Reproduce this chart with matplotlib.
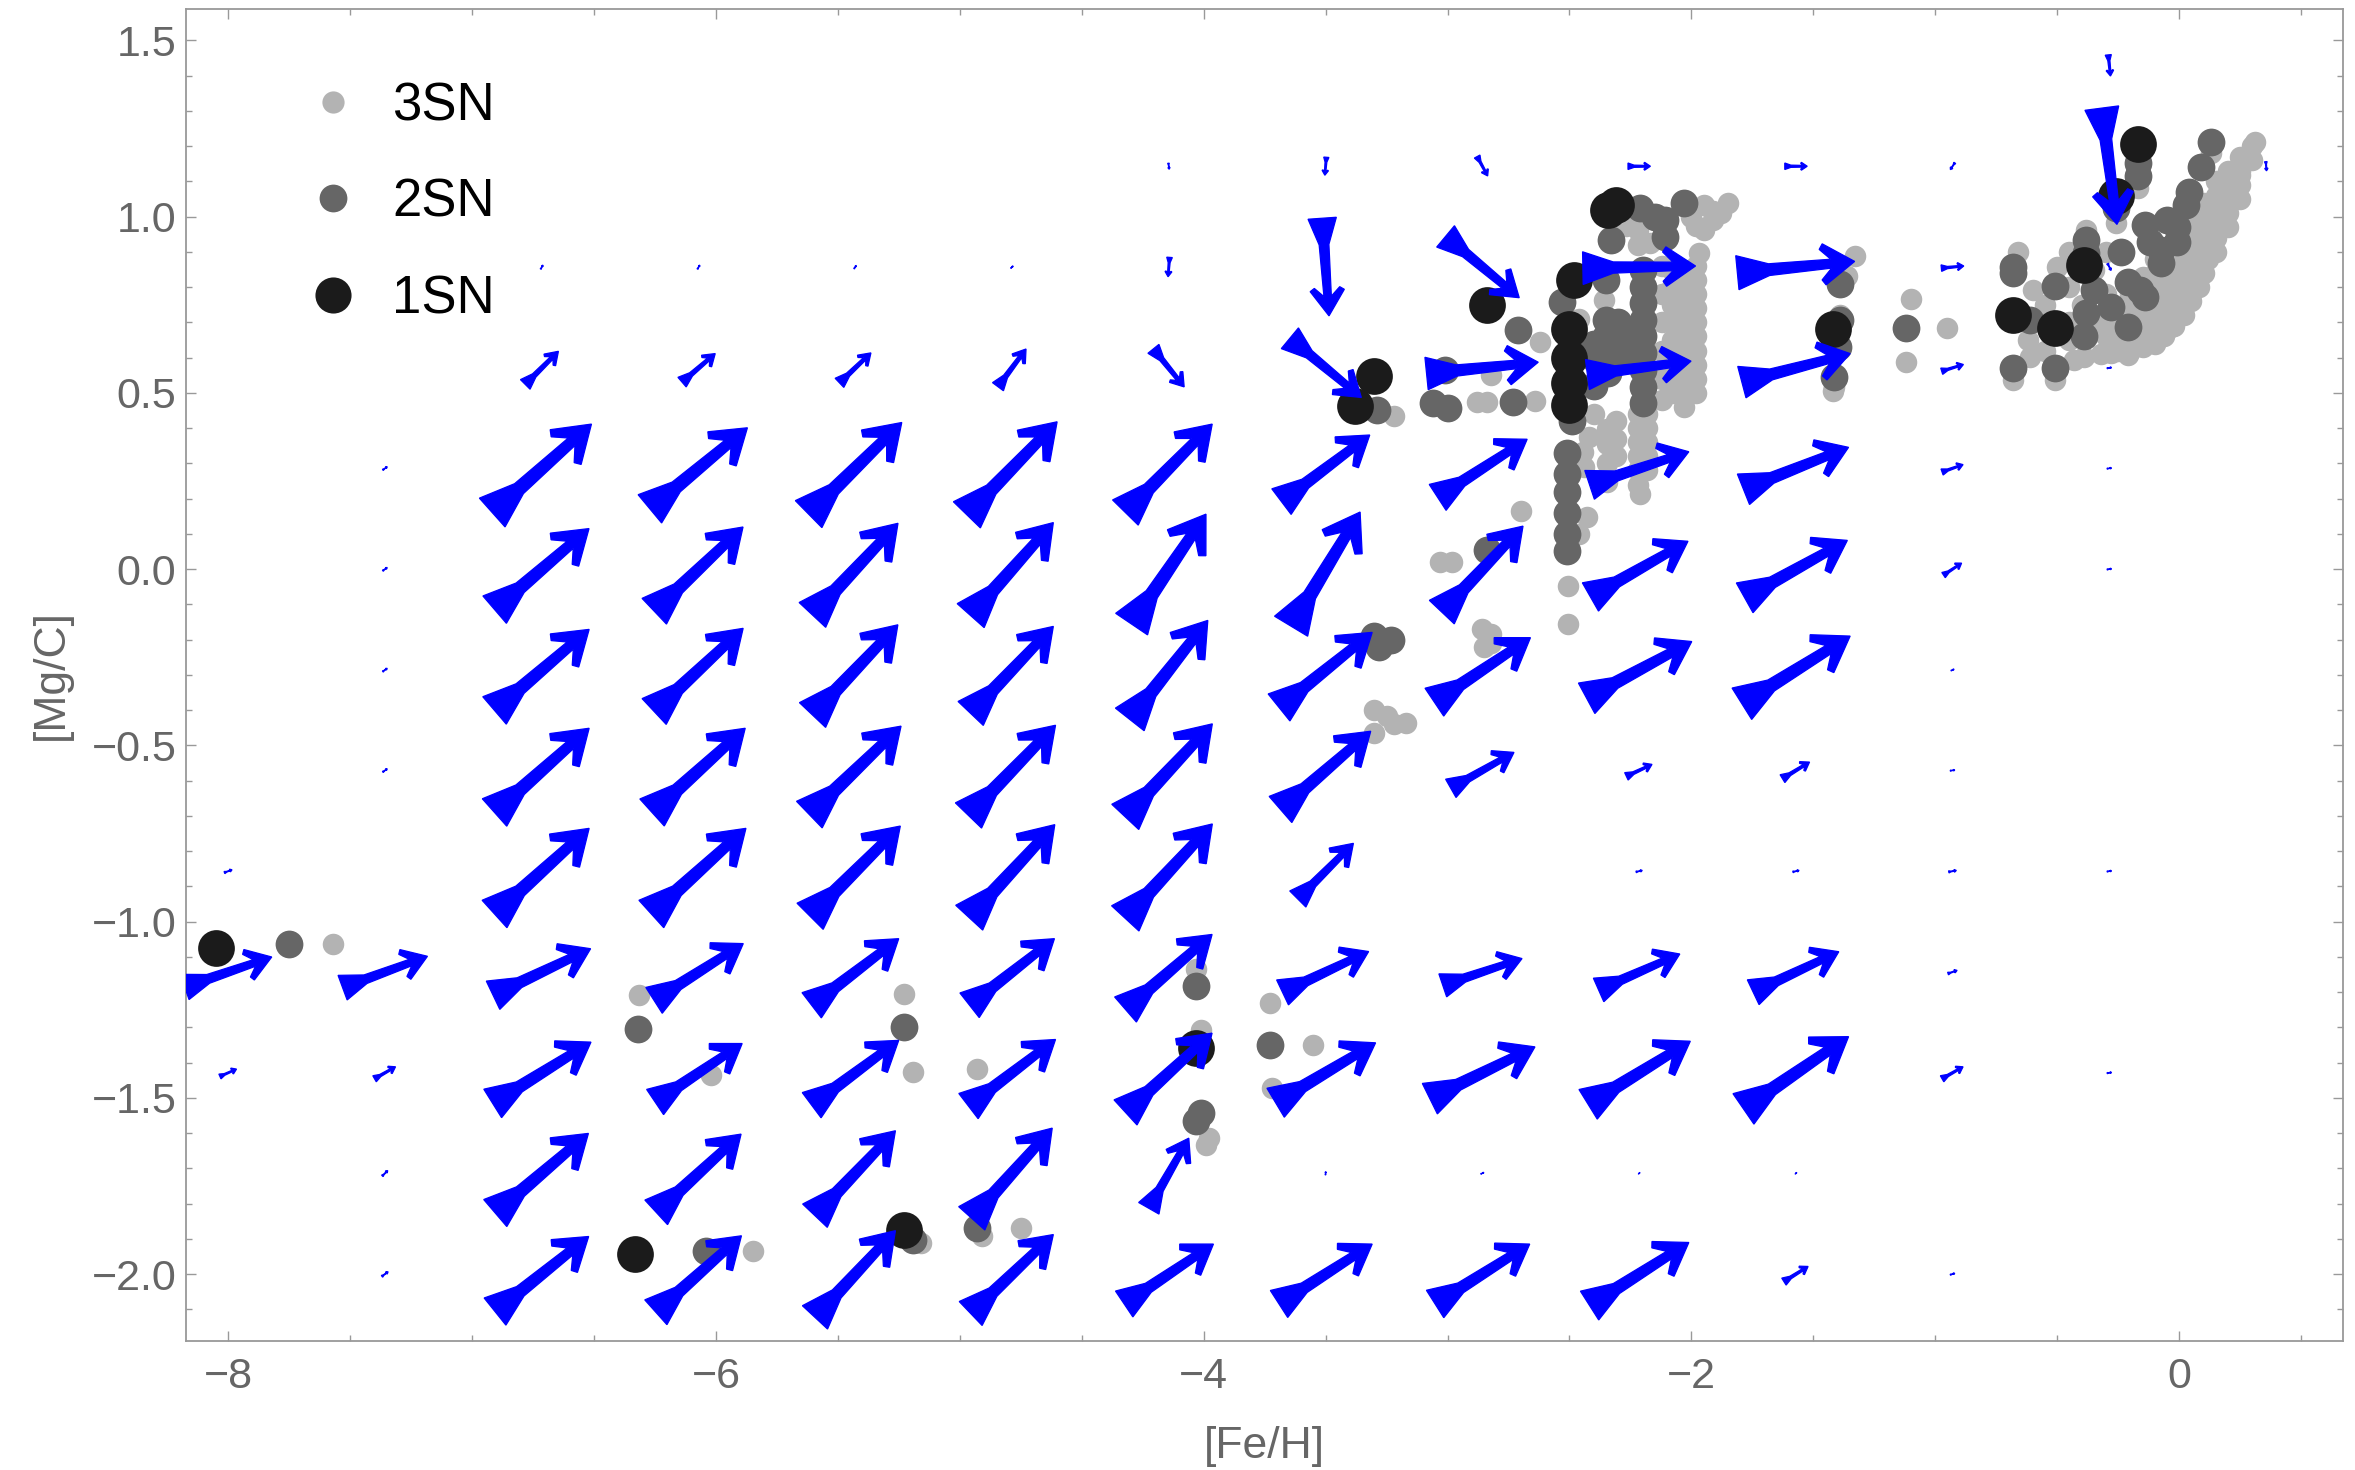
import numpy as np
import matplotlib
matplotlib.use('Agg')
import matplotlib.pyplot as plt
from matplotlib.patches import Polygon
from matplotlib.lines import Line2D
from matplotlib.ticker import FuncFormatter, MultipleLocator

plt.rcParams['font.family'] = ['Liberation Sans', 'DejaVu Sans']

# vector field sample points
fe_grid = [-8.0, -7.357, -6.714, -6.071, -5.429, -4.786, -4.143,
           -3.5, -2.857, -2.214, -1.571, -0.929, -0.286, 0.357]
mgc_grid = [-2.0, -1.714, -1.429, -1.143, -0.857, -0.571, -0.286,
            0.0, 0.286, 0.571, 0.857, 1.143, 1.429]

# drawn arrow components (rows follow mgc_grid, columns follow fe_grid)
u = [
    [0, 0.025, 0.384, 0.351, 0.330, 0.339, 0.366, 0.382, 0.388, 0.407, 0.099, 0.018, 0, 0],
    [0, 0.022, 0.382, 0.348, 0.330, 0.330, 0.164, 0.001, 0.012, 0.006, 0.006, 0, 0, 0],
    [0.068, 0.086, 0.403, 0.357, 0.357, 0.357, 0.355, 0.410, 0.431, 0.419, 0.431, 0.086, 0.018, 0],
    [0.357, 0.348, 0.400, 0.366, 0.357, 0.348, 0.355, 0.353, 0.325, 0.333, 0.351, 0.037, 0, 0],
    [0.031, 0, 0.388, 0.388, 0.370, 0.351, 0.357, 0.228, 0, 0.025, 0.025, 0.031, 0.018, 0],
    [0, 0.018, 0.388, 0.382, 0.376, 0.357, 0.357, 0.370, 0.259, 0.105, 0.111, 0.018, 0, 0],
    [0, 0.018, 0.388, 0.365, 0.350, 0.339, 0.320, 0.382, 0.394, 0.431, 0.444, 0.012, 0, 0],
    [0, 0.018, 0.387, 0.364, 0.351, 0.339, 0.305, 0.283, 0.333, 0.400, 0.421, 0.074, 0.018, 0],
    [0, 0.018, 0.407, 0.400, 0.382, 0.370, 0.356, 0.362, 0.367, 0.407, 0.431, 0.086, 0.018, 0],
    [0, 0, 0.136, 0.136, 0.129, 0.115, 0.126, 0.293, 0.458, 0.425, 0.444, 0.089, 0.018, 0],
    [0, 0, 0.009, 0.009, 0.009, 0.009, -0.006, 0.028, 0.302, 0.462, 0.481, 0.092, 0.014, 0],
    [0, 0, 0, 0, 0, 0, 0.003, -0.006, 0.043, 0.092, 0.092, -0.018, 0.062, 0.003],
    [0, 0, 0, 0, 0, 0, 0, 0, 0, 0, 0, 0, 0.009, 0],
]
v = [
    [0, 0.013, 0.213, 0.217, 0.246, 0.224, 0.170, 0.170, 0.170, 0.179, 0.043, 0.004, 0, 0],
    [0, 0.015, 0.226, 0.222, 0.241, 0.256, 0.199, 0.009, 0.004, 0.004, 0.004, 0, 0, 0],
    [0.021, 0.034, 0.174, 0.166, 0.184, 0.189, 0.225, 0.170, 0.147, 0.179, 0.205, 0.034, 0.002, 0],
    [0.085, 0.089, 0.132, 0.161, 0.189, 0.189, 0.213, 0.116, 0.076, 0.102, 0.115, 0.009, 0, 0],
    [0.008, 0, 0.243, 0.243, 0.256, 0.264, 0.268, 0.158, 0, 0.004, 0.004, 0.004, 0.002, 0],
    [0, 0.009, 0.239, 0.239, 0.251, 0.256, 0.264, 0.222, 0.102, 0.034, 0.047, 0.002, 0, 0],
    [0, 0.009, 0.230, 0.236, 0.256, 0.247, 0.281, 0.213, 0.183, 0.161, 0.192, 0.004, 0, 0],
    [0, 0.009, 0.230, 0.239, 0.260, 0.264, 0.312, 0.324, 0.244, 0.158, 0.163, 0.034, 0.002, 0],
    [0, 0.009, 0.251, 0.230, 0.260, 0.264, 0.251, 0.189, 0.165, 0.094, 0.119, 0.021, 0.002, 0],
    [0, 0, 0.094, 0.081, 0.085, 0.107, -0.108, -0.168, 0.032, 0.038, 0.081, 0.019, 0.002, 0],
    [0, 0, 0.011, 0.011, 0.009, 0.006, -0.055, -0.277, -0.174, 0.006, 0.032, 0.006, -0.019, 0],
    [0, 0, 0, 0, 0, 0, -0.017, -0.051, -0.055, 0, 0, -0.019, -0.330, -0.026],
    [0, 0, 0, 0, 0, 0, 0, 0, 0, 0, 0, 0, -0.060, 0],
]

# model points: ([Fe/H], [Mg/C])
sn1_points = [
    (-8.05, -1.074), (-6.33, -1.943), (-5.23, -1.875), (-4.03, -1.359),
    (-3.38, 0.462), (-3.30, 0.547), (-2.84, 0.749), (-2.48, 0.821),
    (-2.50, 0.680), (-2.50, 0.598), (-2.50, 0.527), (-2.50, 0.466),
    (-2.34, 1.020), (-2.31, 1.033), (-1.42, 0.680), (-0.68, 0.721),
    (-0.51, 0.684), (-0.39, 0.863), (-0.26, 1.059), (-0.17, 1.206),
]
sn2_points = [
    (-7.75, -1.065), (-6.32, -1.306), (-6.04, -1.936), (-5.23, -1.300),
    (-5.19, -1.903), (-4.93, -1.870), (-4.03, -1.182), (-4.01, -1.543),
    (-4.03, -1.565), (-3.73, -1.351),
    (-3.30, -0.191), (-3.23, -0.201), (-3.28, -0.220),
    (-3.29, 0.452), (-3.06, 0.471), (-3.00, 0.457), (-3.01, 0.565),
    (-2.84, 0.055), (-2.71, 0.677), (-2.73, 0.475), (-2.53, 0.759), (-2.49, 0.419),
    (-2.51, 0.329), (-2.51, 0.270), (-2.51, 0.220), (-2.51, 0.160), (-2.51, 0.100), (-2.51, 0.050),
    (-2.35, 0.820), (-2.35, 0.707), (-2.35, 0.660), (-2.35, 0.612), (-2.34, 0.556), (-2.33, 0.934),
    (-2.40, 0.640), (-2.40, 0.600), (-2.30, 0.700), (-2.28, 0.660), (-2.28, 0.620),
    (-2.25, 0.600), (-2.25, 0.640), (-2.40, 0.520),
    (-2.21, 1.024), (-2.11, 0.991), (-2.11, 0.943), (-2.03, 1.038), (-2.15, 1.000),
    (-2.20, 0.849), (-2.20, 0.801), (-2.20, 0.754), (-2.20, 0.707), (-2.20, 0.660),
    (-2.20, 0.612), (-2.20, 0.565), (-2.20, 0.518), (-2.20, 0.471),
    (-1.39, 0.810), (-1.39, 0.707), (-1.40, 0.631), (-1.415, 0.546), (-1.12, 0.685),
    (-0.68, 0.858), (-0.68, 0.839), (-0.68, 0.570), (-0.61, 0.707), (-0.51, 0.802), (-0.51, 0.570),
    (-0.38, 0.934), (-0.38, 0.896), (-0.35, 0.792), (-0.38, 0.726), (-0.39, 0.660),
    (-0.28, 0.745), (-0.24, 0.901), (-0.21, 0.816), (-0.21, 0.688), (-0.16, 0.792),
    (-0.14, 0.773), (-0.14, 0.977), (-0.26, 1.024), (-0.17, 1.151), (-0.17, 1.114),
    (-0.12, 0.929), (-0.075, 0.906), (-0.075, 0.868), (-0.05, 0.991), (-0.01, 0.972),
    (-0.01, 0.929), (0.04, 1.071), (0.03, 1.033), (0.09, 1.142), (0.13, 1.213),
]
sn3_points = [
    (-7.57, -1.065), (-6.315, -1.209), (-6.02, -1.435), (-5.85, -1.936), (-5.23, -1.206),
    (-5.19, -1.427), (-5.16, -1.912), (-4.93, -1.419), (-4.91, -1.893), (-4.75, -1.870),
    (-4.03, -1.135), (-4.01, -1.307), (-3.99, -1.633), (-3.98, -1.615),
    (-3.73, -1.231), (-3.72, -1.472), (-3.55, -1.351),
    (-3.30, -0.399), (-3.25, -0.418), (-3.17, -0.437), (-3.30, -0.465), (-3.22, -0.440),
    (-3.22, 0.435), (-3.03, 0.020), (-2.98, 0.021),
    (-2.83, -0.191), (-2.86, -0.170), (-2.82, -0.210), (-2.85, -0.220),
    (-2.82, 0.551), (-2.88, 0.473), (-2.84, 0.475), (-2.70, 0.166), (-2.62, 0.643), (-2.64, 0.477),
    (-2.44, 0.291), (-2.43, 0.149), (-2.46, 0.099), (-2.445, 0.332), (-2.42, 0.376),
    (-2.505, -0.048), (-2.505, -0.156), (-2.82, -0.183), (-2.36, 0.764),
    (-2.46, 0.710), (-2.40, 0.440),
    (-2.345, 0.397), (-2.345, 0.354), (-2.345, 0.300), (-2.345, 0.246),
    (-2.31, 0.420), (-2.31, 0.370), (-2.31, 0.320),
    (-2.22, 0.441), (-2.22, 0.400), (-2.22, 0.360), (-2.22, 0.320), (-2.22, 0.280),
    (-2.22, 0.240), (-2.21, 0.213),
    (-2.18, 0.440), (-2.18, 0.400), (-2.18, 0.360), (-2.18, 0.320), (-2.18, 0.280),
    (-2.22, 0.962), (-2.17, 0.925), (-2.27, 0.973), (-2.22, 0.919),
    (-1.95, 1.033), (-1.85, 1.038), (-1.91, 0.991), (-1.95, 0.962), (-1.97, 0.896),
    (-1.91, 1.016), (-1.98, 0.973), (-1.88, 1.010), (-2.00, 1.000),
    (-2.03, 0.850), (-2.03, 0.810), (-2.03, 0.770), (-2.03, 0.730), (-2.03, 0.690),
    (-2.03, 0.650), (-2.03, 0.610), (-2.03, 0.570), (-2.03, 0.530), (-2.03, 0.490), (-2.03, 0.460),
    (-1.98, 0.860), (-1.98, 0.820), (-1.98, 0.780), (-1.98, 0.740), (-1.98, 0.700),
    (-1.98, 0.660), (-1.98, 0.620), (-1.98, 0.580), (-1.98, 0.540), (-1.98, 0.500),
    (-2.08, 0.850), (-2.08, 0.800), (-2.08, 0.750), (-2.08, 0.700), (-2.08, 0.650),
    (-2.08, 0.600), (-2.08, 0.550), (-2.08, 0.500),
    (-2.12, 0.860), (-2.12, 0.780), (-2.12, 0.700), (-2.12, 0.620), (-2.12, 0.540), (-2.12, 0.480),
    (-1.33, 0.887), (-1.36, 0.832), (-1.39, 0.720), (-1.415, 0.518), (-1.42, 0.506),
    (-1.10, 0.767), (-1.12, 0.588), (-0.95, 0.684),
    (-0.66, 0.901), (-0.68, 0.537), (-0.51, 0.537), (-0.50, 0.858), (-0.60, 0.792), (-0.61, 0.603),
    (-0.43, 0.594), (-0.39, 0.603), (-0.28, 0.612), (-0.21, 0.608), (-0.26, 0.981),
    (-0.17, 1.080), (-0.38, 0.962),
    (-0.45, 0.650), (-0.45, 0.700), (-0.40, 0.750), (-0.45, 0.800), (-0.55, 0.700),
    (-0.55, 0.750), (-0.35, 0.850), (-0.30, 0.900), (-0.45, 0.900), (-0.55, 0.620),
    (-0.62, 0.650), (-0.30, 0.780), (-0.33, 0.700),
    (0.31, 1.213), (0.28, 1.161), (0.25, 1.118), (0.22, 1.080), (0.20, 1.040), (0.18, 1.000),
    (0.16, 0.960), (0.14, 0.920), (0.12, 0.880), (0.10, 0.840), (0.08, 0.800), (0.05, 0.760),
    (0.02, 0.720), (-0.02, 0.690), (-0.06, 0.660), (-0.10, 0.640), (-0.15, 0.630),
    (-0.30, 0.620), (-0.30, 0.660), (-0.30, 0.700),
    (-0.25, 0.620), (-0.25, 0.660), (-0.25, 0.700), (-0.25, 0.740),
    (-0.20, 0.620), (-0.20, 0.660), (-0.20, 0.700), (-0.20, 0.740), (-0.20, 0.780),
    (-0.15, 0.670), (-0.15, 0.710), (-0.15, 0.750), (-0.15, 0.790), (-0.15, 0.830),
    (-0.10, 0.680), (-0.10, 0.720), (-0.10, 0.760), (-0.10, 0.800), (-0.10, 0.840), (-0.10, 0.880),
    (-0.05, 0.700), (-0.05, 0.740), (-0.05, 0.780), (-0.05, 0.820), (-0.05, 0.860), (-0.05, 0.900),
    (0.00, 0.730), (0.00, 0.770), (0.00, 0.810), (0.00, 0.850), (0.00, 0.890), (0.00, 0.930),
    (0.05, 0.780), (0.05, 0.820), (0.05, 0.860), (0.05, 0.900), (0.05, 0.940), (0.05, 0.980),
    (0.10, 0.880), (0.10, 0.920), (0.10, 0.960), (0.10, 1.000), (0.10, 1.040),
    (0.15, 0.900), (0.15, 0.940), (0.15, 0.980), (0.15, 1.020), (0.15, 1.060), (0.15, 1.100),
    (0.20, 0.970), (0.20, 1.010), (0.20, 1.050), (0.20, 1.090), (0.20, 1.130),
    (0.25, 1.050), (0.25, 1.090), (0.25, 1.130), (0.25, 1.170),
    (0.30, 1.160), (0.30, 1.200), (0.13, 1.180),
    (-0.32, 0.610), (-0.144, 0.660), (-0.034, 0.688), (0.014, 0.750), (0.062, 0.806),
]

# arrow outline along +x for unit length: wedge tail, shaft, barbed head
ARROW_SHAPE = [(0.0, -0.145), (0.27, -0.05), (0.80, -0.038), (0.71, -0.13),
               (0.74, -0.175), (1.0, 0.0), (0.74, 0.175), (0.71, 0.13),
               (0.80, 0.038), (0.27, 0.05), (0.0, 0.145)]

fig = plt.figure(figsize=(23.55, 14.70), dpi=100)
ax = fig.add_axes([0.0790, 0.0880, 0.9159, 0.9056])
ax.set_xlim(-8.173, 0.672)
ax.set_ylim(-2.189, 1.588)

# scatter points, lightest first
p3 = np.array(sn3_points)
p2 = np.array(sn2_points)
p1 = np.array(sn1_points)
ax.scatter(p3[:, 0], p3[:, 1], s=240, c='#b3b3b3', linewidths=0, zorder=2)
ax.scatter(p2[:, 0], p2[:, 1], s=400, c='#666666', linewidths=0, zorder=2.1)
ax.scatter(p1[:, 0], p1[:, 1], s=700, c='#1b1b1b', linewidths=0, zorder=2.2)


def arrow_patch(x0, y0, du, dv):
    # build the arrow in pixel space so it keeps its shape, then map back
    to_px = ax.transData
    c = to_px.transform((x0, y0))
    e = to_px.transform((x0 + du, y0 + dv))
    vec = e - c
    length = np.hypot(*vec)
    if length < 0.5:
        return None
    d = vec / length
    n = np.array([-d[1], d[0]])
    tail = c - 0.5 * vec
    pts = [tail + length * a * d + length * b * n for a, b in ARROW_SHAPE]
    return Polygon(to_px.inverted().transform(pts), closed=True,
                   facecolor='#0000ff', edgecolor='#0000ff', linewidth=0.9, zorder=3)


for j, yv in enumerate(mgc_grid):
    for i, xv in enumerate(fe_grid):
        patch = arrow_patch(xv, yv, u[j][i], v[j][i])
        if patch is not None:
            ax.add_patch(patch)

# frame and ticks
for sp in ax.spines.values():
    sp.set_color('#999999')
    sp.set_linewidth(1.3)
ax.set_xticks([-8, -6, -4, -2, 0])
ax.xaxis.set_minor_locator(MultipleLocator(0.5))
ax.set_yticks([-2.0, -1.5, -1.0, -0.5, 0.0, 0.5, 1.0, 1.5])
ax.yaxis.set_minor_locator(MultipleLocator(0.1))
ax.xaxis.set_major_formatter(FuncFormatter(lambda x, p: f'{x:.0f}'.replace('-', '\u2212')))
ax.yaxis.set_major_formatter(FuncFormatter(lambda y, p: f'{y:.1f}'.replace('-', '\u2212')))
ax.tick_params(which='both', direction='in', top=True, right=True,
               color='#999999', labelcolor='#666666', labelsize=31, width=1.0)
ax.tick_params(which='major', length=7)
ax.tick_params(which='minor', length=4)
ax.tick_params(axis='x', pad=12)
ax.tick_params(axis='y', pad=7)

ax.set_xlabel('[Fe/H]', fontsize=32, color='#666666', labelpad=21)
ax.set_ylabel('[Mg/C]', fontsize=32, color='#666666', labelpad=14)

handles = [
    Line2D([], [], ls='none', marker='o', ms=16, mfc='#b3b3b3', mec='none'),
    Line2D([], [], ls='none', marker='o', ms=20, mfc='#666666', mec='none'),
    Line2D([], [], ls='none', marker='o', ms=26, mfc='#1b1b1b', mec='none'),
]
ax.legend(handles, ['3SN', '2SN', '1SN'], loc='upper left',
          bbox_to_anchor=(0.0560, 0.946), frameon=False, fontsize=38,
          handlelength=1.0, handletextpad=0.62, labelspacing=0.88,
          borderpad=0, borderaxespad=0)

fig.savefig('out.png', dpi=100)
